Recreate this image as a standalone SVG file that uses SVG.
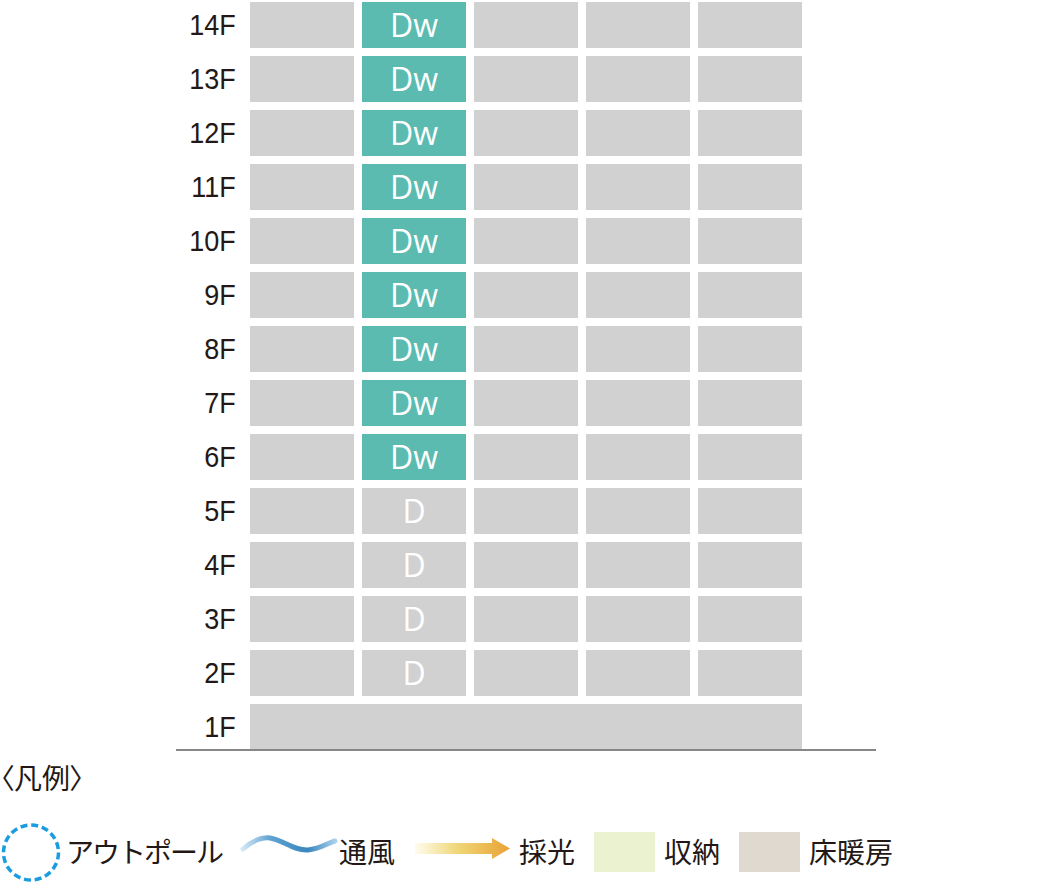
<svg xmlns="http://www.w3.org/2000/svg" width="1060" height="890" viewBox="0 0 1060 890">
<style>
.c{fill:#d1d1d1}
.t{fill:#5cbbb1}
.fl{font-family:"Liberation Sans",Arial,sans-serif;font-size:30px;fill:#231815;text-anchor:end}
.dw{font-family:"Open Sans","Liberation Sans",sans-serif;font-weight:400;font-size:32px;fill:#ffffff;text-anchor:middle}
.lg{font-family:"Noto Sans CJK JP",sans-serif;font-size:28px;fill:#231815}
.palt{font-feature-settings:"palt"}
</style>
<defs>
<linearGradient id="wave" gradientUnits="userSpaceOnUse" x1="242" y1="0" x2="336" y2="0">
<stop offset="0" stop-color="#d6e9f6"/>
<stop offset="0.3" stop-color="#5fa3d2"/>
<stop offset="0.7" stop-color="#3a86bf"/>
<stop offset="1" stop-color="#acd2ec"/>
</linearGradient>
<linearGradient id="sun" gradientUnits="userSpaceOnUse" x1="415" y1="0" x2="510" y2="0">
<stop offset="0" stop-color="#fffcee"/>
<stop offset="0.45" stop-color="#f0d677"/>
<stop offset="1" stop-color="#e8a235"/>
</linearGradient>
</defs>

<g id="floor-labels" transform="scale(0.9 1)">
<text class="fl" x="262" y="35">14F</text>
<text class="fl" x="262" y="89">13F</text>
<text class="fl" x="262" y="143">12F</text>
<text class="fl" x="262" y="197">11F</text>
<text class="fl" x="262" y="251">10F</text>
<text class="fl" x="262" y="305">9F</text>
<text class="fl" x="262" y="359">8F</text>
<text class="fl" x="262" y="413">7F</text>
<text class="fl" x="262" y="467">6F</text>
<text class="fl" x="262" y="521">5F</text>
<text class="fl" x="262" y="575">4F</text>
<text class="fl" x="262" y="629">3F</text>
<text class="fl" x="262" y="683">2F</text>
<text class="fl" x="262" y="737">1F</text>
</g>

<g id="floor-14"><rect class="c" x="250" y="2" width="104" height="46"/><rect class="t" x="362" y="2" width="104" height="46"/><text class="dw" x="414" y="37">Dw</text><rect class="c" x="474" y="2" width="104" height="46"/><rect class="c" x="586" y="2" width="104" height="46"/><rect class="c" x="698" y="2" width="104" height="46"/></g>
<g id="floor-13"><rect class="c" x="250" y="56" width="104" height="46"/><rect class="t" x="362" y="56" width="104" height="46"/><text class="dw" x="414" y="91">Dw</text><rect class="c" x="474" y="56" width="104" height="46"/><rect class="c" x="586" y="56" width="104" height="46"/><rect class="c" x="698" y="56" width="104" height="46"/></g>
<g id="floor-12"><rect class="c" x="250" y="110" width="104" height="46"/><rect class="t" x="362" y="110" width="104" height="46"/><text class="dw" x="414" y="145">Dw</text><rect class="c" x="474" y="110" width="104" height="46"/><rect class="c" x="586" y="110" width="104" height="46"/><rect class="c" x="698" y="110" width="104" height="46"/></g>
<g id="floor-11"><rect class="c" x="250" y="164" width="104" height="46"/><rect class="t" x="362" y="164" width="104" height="46"/><text class="dw" x="414" y="199">Dw</text><rect class="c" x="474" y="164" width="104" height="46"/><rect class="c" x="586" y="164" width="104" height="46"/><rect class="c" x="698" y="164" width="104" height="46"/></g>
<g id="floor-10"><rect class="c" x="250" y="218" width="104" height="46"/><rect class="t" x="362" y="218" width="104" height="46"/><text class="dw" x="414" y="253">Dw</text><rect class="c" x="474" y="218" width="104" height="46"/><rect class="c" x="586" y="218" width="104" height="46"/><rect class="c" x="698" y="218" width="104" height="46"/></g>
<g id="floor-9"><rect class="c" x="250" y="272" width="104" height="46"/><rect class="t" x="362" y="272" width="104" height="46"/><text class="dw" x="414" y="307">Dw</text><rect class="c" x="474" y="272" width="104" height="46"/><rect class="c" x="586" y="272" width="104" height="46"/><rect class="c" x="698" y="272" width="104" height="46"/></g>
<g id="floor-8"><rect class="c" x="250" y="326" width="104" height="46"/><rect class="t" x="362" y="326" width="104" height="46"/><text class="dw" x="414" y="361">Dw</text><rect class="c" x="474" y="326" width="104" height="46"/><rect class="c" x="586" y="326" width="104" height="46"/><rect class="c" x="698" y="326" width="104" height="46"/></g>
<g id="floor-7"><rect class="c" x="250" y="380" width="104" height="46"/><rect class="t" x="362" y="380" width="104" height="46"/><text class="dw" x="414" y="415">Dw</text><rect class="c" x="474" y="380" width="104" height="46"/><rect class="c" x="586" y="380" width="104" height="46"/><rect class="c" x="698" y="380" width="104" height="46"/></g>
<g id="floor-6"><rect class="c" x="250" y="434" width="104" height="46"/><rect class="t" x="362" y="434" width="104" height="46"/><text class="dw" x="414" y="469">Dw</text><rect class="c" x="474" y="434" width="104" height="46"/><rect class="c" x="586" y="434" width="104" height="46"/><rect class="c" x="698" y="434" width="104" height="46"/></g>
<g id="floor-5"><rect class="c" x="250" y="488" width="104" height="46"/><rect class="c" x="362" y="488" width="104" height="46"/><text class="dw" x="414" y="523">D</text><rect class="c" x="474" y="488" width="104" height="46"/><rect class="c" x="586" y="488" width="104" height="46"/><rect class="c" x="698" y="488" width="104" height="46"/></g>
<g id="floor-4"><rect class="c" x="250" y="542" width="104" height="46"/><rect class="c" x="362" y="542" width="104" height="46"/><text class="dw" x="414" y="577">D</text><rect class="c" x="474" y="542" width="104" height="46"/><rect class="c" x="586" y="542" width="104" height="46"/><rect class="c" x="698" y="542" width="104" height="46"/></g>
<g id="floor-3"><rect class="c" x="250" y="596" width="104" height="46"/><rect class="c" x="362" y="596" width="104" height="46"/><text class="dw" x="414" y="631">D</text><rect class="c" x="474" y="596" width="104" height="46"/><rect class="c" x="586" y="596" width="104" height="46"/><rect class="c" x="698" y="596" width="104" height="46"/></g>
<g id="floor-2"><rect class="c" x="250" y="650" width="104" height="46"/><rect class="c" x="362" y="650" width="104" height="46"/><text class="dw" x="414" y="685">D</text><rect class="c" x="474" y="650" width="104" height="46"/><rect class="c" x="586" y="650" width="104" height="46"/><rect class="c" x="698" y="650" width="104" height="46"/></g>
<g id="floor-1"><rect class="c" x="250" y="704" width="552" height="46"/></g>

<g id="ground"><line x1="176" y1="750" x2="876" y2="750" stroke="#878787" stroke-width="2"/></g>

<g id="connectors"></g>

<g id="legend">
<text class="lg palt" x="0" y="789">〈凡例〉</text>
<circle cx="31" cy="852.5" r="27.5" fill="none" stroke="#1a9de0" stroke-width="3.5" stroke-dasharray="7 3.8"/>
<text class="lg" x="66" y="863" letter-spacing="-2">アウトポール</text>
<path d="M243,849 C252,841 260,837 270,838 C283,840 294,851 308,850 C320,849 328,843 335,841" fill="none" stroke="url(#wave)" stroke-width="5" stroke-linecap="round"/>
<text class="lg" x="339" y="863">通風</text>
<polygon points="415,843 492,843 492,838 510,848.5 492,859 492,854 415,854" fill="url(#sun)"/>
<text class="lg" x="519" y="863">採光</text>
<rect x="594" y="832" width="61" height="40" fill="#eaf2d0"/>
<text class="lg" x="664" y="863">収納</text>
<rect x="739" y="832" width="61" height="40" fill="#e0d9cf"/>
<text class="lg" x="809" y="863">床暖房</text>
</g>
</svg>
